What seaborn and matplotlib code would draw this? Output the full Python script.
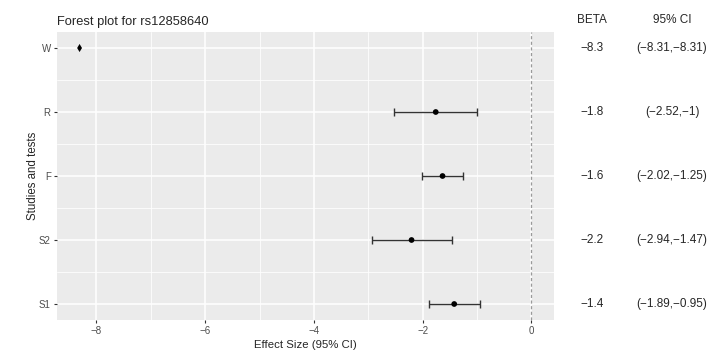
import matplotlib
matplotlib.use("Agg")
import matplotlib.pyplot as plt
import seaborn as sns
import pandas as pd
import numpy as np
from matplotlib.ticker import MultipleLocator

studies = ["W", "R", "F", "S2", "S1"]
beta = [-8.3, -1.8, -1.6, -2.2, -1.4]
beta_exact = [-8.31, -1.76, -1.635, -2.205, -1.42]
ci_low = [-8.31, -2.52, -2.02, -2.94, -1.89]
ci_high = [-8.31, -1.00, -1.25, -1.47, -0.95]
beta_labels = ["\u22128.3", "\u22121.8", "\u22121.6", "\u22122.2", "\u22121.4"]
ci_labels = ["(\u22128.31,\u22128.31)", "(\u22122.52,\u22121)", "(\u22122.02,\u22121.25)",
             "(\u22122.94,\u22121.47)", "(\u22121.89,\u22120.95)"]
kinds = ["summary", "study", "study", "study", "study"]

sns.set_theme(style="darkgrid")
plt.rcParams["font.family"] = ["Liberation Sans", "DejaVu Sans"]

df = pd.DataFrame({"study": studies, "beta": beta_exact, "lo": ci_low, "hi": ci_high, "kind": kinds})
n = len(studies)
df["pos"] = [n - i for i in range(n)]

fig = plt.figure(figsize=(7.2, 3.6), dpi=100)
ax = fig.add_axes([57/720, 1 - 320/360, (554 - 57)/720, (320 - 32)/360])
ax.set_facecolor("#EBEBEB")

ax.xaxis.set_major_locator(MultipleLocator(2))
ax.xaxis.set_minor_locator(MultipleLocator(1))
ax.set_yticks(df["pos"])
ax.set_yticklabels(df["study"])
ax.set_yticks([p + 0.5 for p in df["pos"][1:]], minor=True)
ax.grid(which="major", color="white", linewidth=1.1)
ax.grid(which="minor", color="white", linewidth=0.55)
ax.set_axisbelow(True)
for s in ax.spines.values():
    s.set_visible(False)

ax.axvline(0, color="#9A9A9A", linestyle=(0, (2.5, 2)), linewidth=0.9, zorder=2)

st = df[df["kind"] == "study"]
ax.errorbar(st["beta"], st["pos"], xerr=[st["beta"] - st["lo"], st["hi"] - st["beta"]],
            fmt="none", ecolor="#333333", elinewidth=1.0, capsize=3.2, capthick=1.0, zorder=3)
sns.scatterplot(data=df, x="beta", y="pos", style="kind", markers={"summary": "d", "study": "o"},
                color="black", s=17, edgecolor="black", linewidth=0, legend=False, ax=ax, zorder=4)

ax.set_xlim(-8.725, 0.415)
ax.set_ylim(0.75, n + 0.25)

ax.tick_params(axis="both", which="major", length=2.5, width=0.8, color="#333333",
               labelcolor="#4D4D4D", labelsize=7, pad=2, bottom=True, left=True)
ax.tick_params(which="minor", length=0)
ax.set_xticklabels([t.get_text() for t in ax.get_xticklabels()])
ax.set_xlabel("Effect Size (95% CI)", fontsize=8.2, labelpad=3)
ax.set_ylabel("Studies and tests", fontsize=8.3)
ax.yaxis.set_label_coords((39 - 57) / 497, 0.5)
ax.set_title("Forest plot for rs12858640", loc="left", fontsize=9.3, pad=5)

fs = 8.5
fig.text(592/720, 1 - 20/360, "BETA", ha="center", va="center", fontsize=fs)
fig.text(672/720, 1 - 20/360, "95% CI", ha="center", va="center", fontsize=fs)
for p, b, c in zip(df["pos"], beta_labels, ci_labels):
    ax.annotate(b, xy=(592/720, p), xycoords=("figure fraction", "data"), ha="center", va="center",
                fontsize=fs, annotation_clip=False)
    ax.annotate(c, xy=(672/720, p), xycoords=("figure fraction", "data"), ha="center", va="center",
                fontsize=fs, annotation_clip=False)

fig.savefig("out.png", dpi=100, facecolor="white")
